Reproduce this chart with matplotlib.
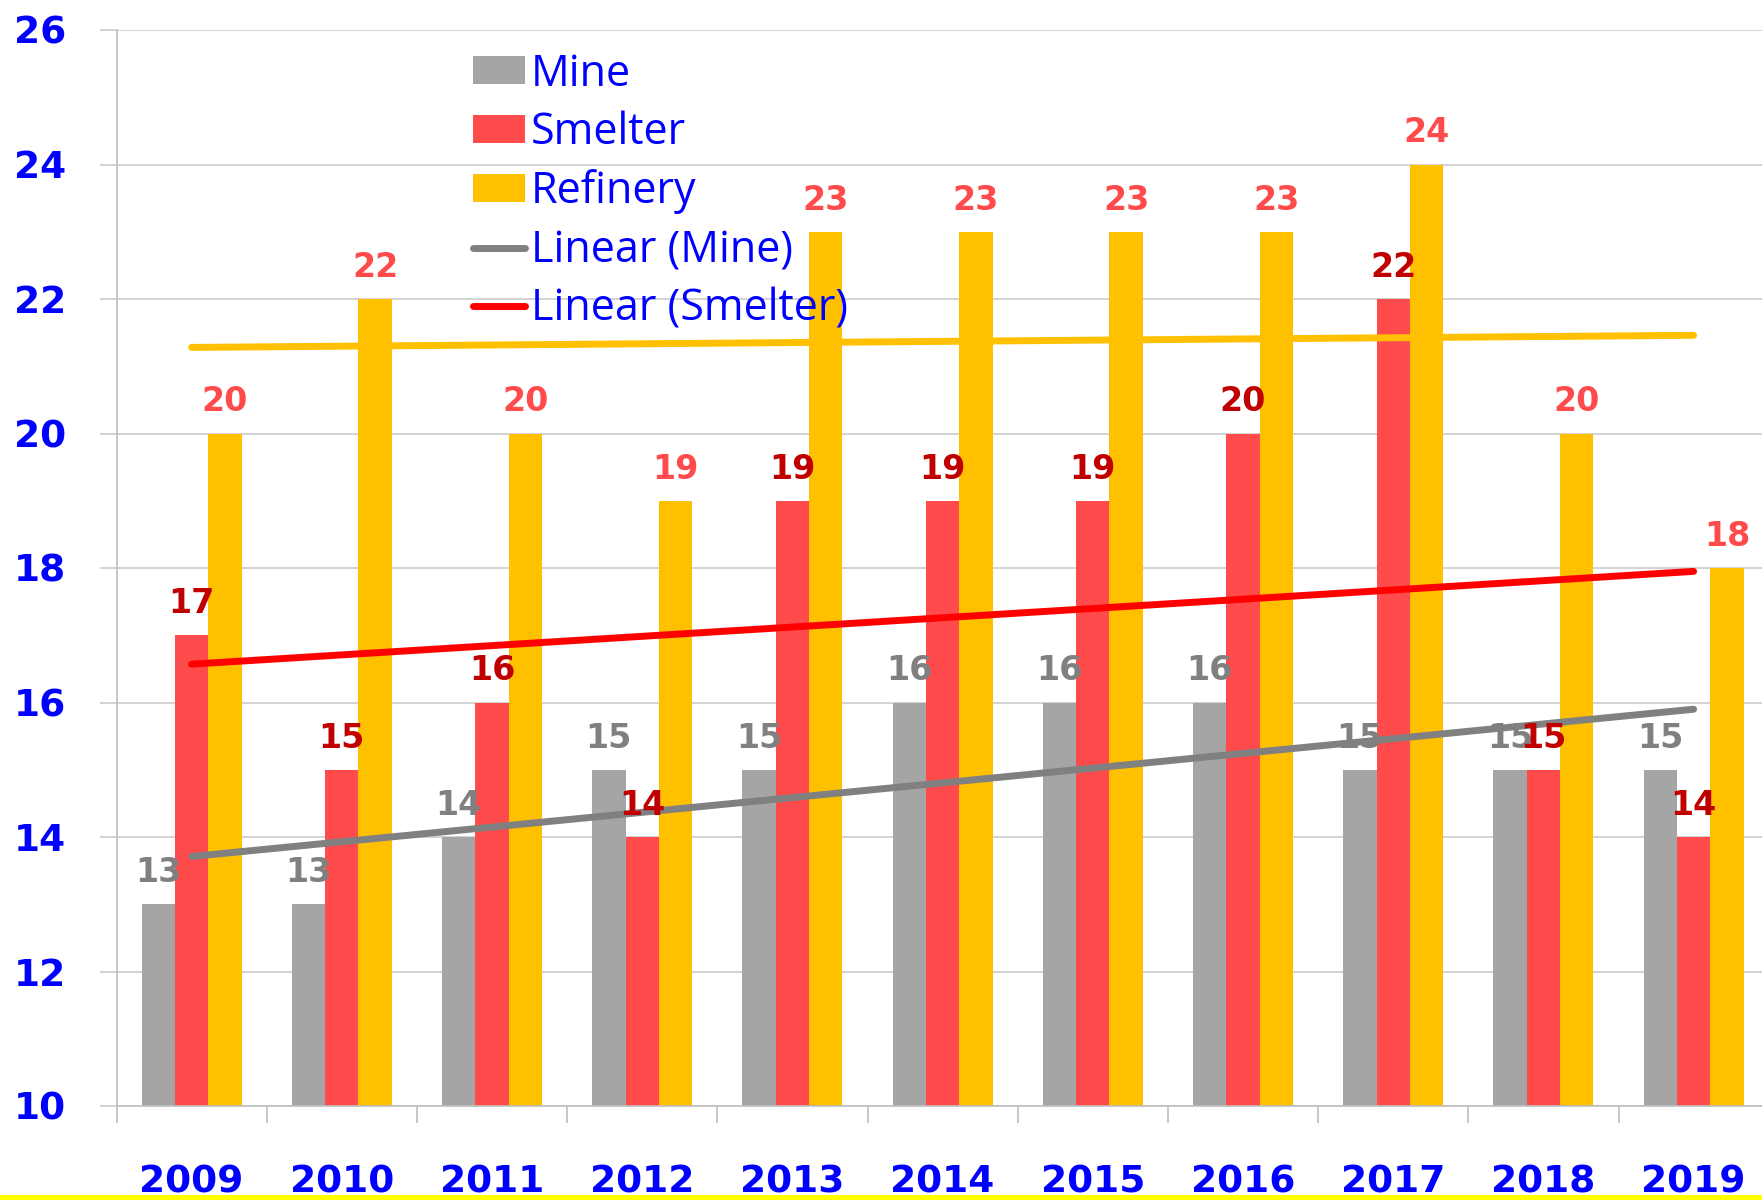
import matplotlib
matplotlib.use("Agg")
import matplotlib.pyplot as plt
from matplotlib.patches import Rectangle
import numpy as np

years = ["2009", "2010", "2011", "2012", "2013", "2014", "2015", "2016", "2017", "2018", "2019"]
mine = [13, 13, 14, 15, 15, 16, 16, 16, 15, 15, 15]
smelter = [17, 15, 16, 14, 19, 19, 19, 20, 22, 15, 14]
refinery = [20, 22, 20, 19, 23, 23, 23, 23, 24, 20, 18]
# trend line end values (first year, last year)
mine_trend = [13.71, 15.90]
smelter_trend = [16.57, 17.95]
refinery_trend = [21.28, 21.46]
yticks = [10, 12, 14, 16, 18, 20, 22, 24, 26]

C_MINE = "#A5A5A5"
C_SMELT = "#FF4B4B"
C_REF = "#FFC000"
BLUE = "#0000FF"

W, H = 1762, 1200
DPI = 100
fig = plt.figure(figsize=(W / DPI, H / DPI), dpi=DPI)
ax = fig.add_axes([116.5 / W, (H - 1106) / H, 11 * 150.2 / W, (1106 - 30) / H])

x = np.arange(len(years))
bw = 0.222
b1 = ax.bar(x - bw, mine, bw, color=C_MINE, zorder=2, label="Mine")
b2 = ax.bar(x, smelter, bw, color=C_SMELT, zorder=2, label="Smelter")
b3 = ax.bar(x + bw, refinery, bw, color=C_REF, zorder=2, label="Refinery")

xe = [x[0], x[-1]]
l1, = ax.plot(xe, mine_trend, color="#808080", lw=5, solid_capstyle="round", zorder=3, label="Linear (Mine)")
l2, = ax.plot(xe, smelter_trend, color="#FF0000", lw=5, solid_capstyle="round", zorder=3, label="Linear (Smelter)")
l3, = ax.plot(xe, refinery_trend, color=C_REF, lw=5, solid_capstyle="round", zorder=3)

lab_font = dict(family="DejaVu Sans", weight="bold", fontsize=24)
for vals, off, col in [(mine, -bw, "#808080"), (smelter, 0, "#C00000"), (refinery, bw, C_SMELT)]:
    for xi, v in zip(x, vals):
        ax.annotate(str(v), (xi + off, v), xytext=(0, 16), textcoords="offset points",
                    ha="center", va="baseline", color=col, zorder=4, **lab_font)

ax.set_ylim(10, 26)
ax.set_xlim(-0.5, len(years) - 0.5)
ax.set_yticks(yticks)
ax.set_yticklabels([str(t) for t in yticks])
ax.set_xticks(x)
ax.set_xticklabels(years)
ax.set_xticks(np.arange(-0.5, len(years), 1.0), minor=True)
ax.tick_params(axis="x", which="major", length=0, pad=42, labelsize=27, labelcolor=BLUE)
ax.tick_params(axis="x", which="minor", length=12.5, width=1.2, color="#BFBFBF", direction="out")
ax.tick_params(axis="y", which="major", length=12.5, width=1.2, color="#CCCCCC", pad=24,
               labelsize=27, labelcolor=BLUE)
for lab in ax.get_xticklabels() + ax.get_yticklabels():
    lab.set_family("DejaVu Sans")
    lab.set_fontweight("bold")

ax.grid(axis="y", color="#CCCCCC", lw=1.2, zorder=0)
ax.set_axisbelow(True)
for s in ["top", "right"]:
    ax.spines[s].set_visible(False)
ax.spines["left"].set_color("#BFBFBF")
ax.spines["left"].set_linewidth(1.2)
ax.spines["bottom"].set_color("#BFBFBF")
ax.spines["bottom"].set_linewidth(1.2)

leg = ax.legend(handles=[b1, b2, b3, l1, l2], loc="upper left",
                bbox_to_anchor=(473 / W, 1 - 52 / H), bbox_transform=fig.transFigure,
                frameon=False, borderpad=0, borderaxespad=0,
                prop={"family": "Open Sans", "size": 31},
                handlelength=1.2, handleheight=0.62, handletextpad=0.15, labelspacing=0.33)
for t in leg.get_texts():
    t.set_color(BLUE)

fig.patches.append(Rectangle((0, 0), 1, 5 / H, transform=fig.transFigure,
                             facecolor="#FFFF00", edgecolor="none", zorder=10))

fig.savefig("out.png", dpi=DPI)
